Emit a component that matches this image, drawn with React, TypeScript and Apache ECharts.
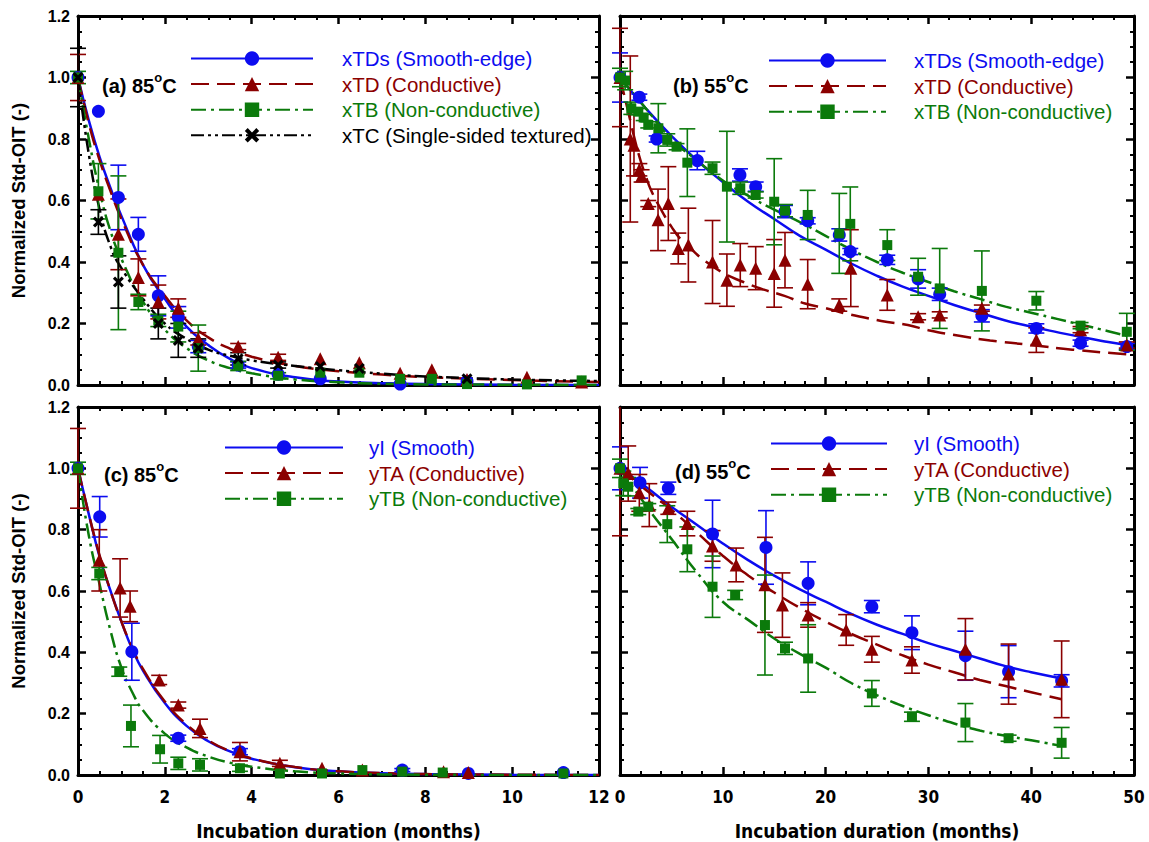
import React, { useEffect, useRef } from 'react';
import * as echarts from 'echarts';

// ---------- colours / fonts ----------
const BLUE = '#0c0cf0';
const RED = '#8b0000';
const GREEN = '#0b7a0b';
const BLACK = '#000000';
const FONT = "'Liberation Sans', Arial, sans-serif";
const NARROW = "'Liberation Sans Narrow', 'DejaVu Sans Condensed', 'Liberation Sans', Arial, sans-serif";

// ---------- tick labels ----------
const xTicks85 = { min: 0, max: 12, interval: 2, minor: 4 };
const xTicks55 = { min: 0, max: 50, interval: 10, minor: 5 };
const yTicks = { min: 0, max: 1.2, interval: 0.2, minor: 4 };

// ---------- legend names ----------
const namesX = ['xTDs (Smooth-edge)', 'xTD (Conductive)', 'xTB (Non-conductive)', 'xTC (Single-sided textured)'];
const namesY = ['yI (Smooth)', 'yTA (Conductive)', 'yTB (Non-conductive)'];
const panelLabels = ['(a) 85', '(b) 55', '(c) 85', '(d) 55'];
const yTitle = 'Normalized Std-OIT (-)';
const xTitle = 'Incubation duration (months)';

// ---------- panel (a) 85C, x-series ----------
const aBlueX = [0, 0.47, 0.93, 1.39, 1.85, 2.31, 2.77, 3.69, 4.61, 5.58, 7.42, 8.96];
const aBlueY = [1.0, 0.89, 0.61, 0.49, 0.29, 0.22, 0.125, 0.065, 0.035, 0.02, 0.003, 0.012];
const aBlueE = [0, 0, 0.105, 0.055, 0.065, 0.035, 0.02, 0.01, 0, 0, 0, 0];
const aRedX = [0, 0.47, 0.93, 1.39, 1.85, 2.31, 2.77, 3.69, 4.61, 5.58, 6.48, 7.42, 8.15, 8.96, 10.34, 11.6];
const aRedY = [1.0, 0.62, 0.49, 0.35, 0.27, 0.25, 0.15, 0.125, 0.09, 0.085, 0.072, 0.038, 0.05, 0.018, 0.025, 0.01];
const aRedE = [0.075, 0, 0.115, 0.06, 0.055, 0.03, 0.02, 0.01, 0.01, 0, 0, 0, 0, 0, 0, 0];
const aGreenX = [0, 0.47, 0.93, 1.39, 1.85, 2.31, 2.77, 3.69, 4.61, 5.58, 6.48, 7.42, 8.15, 8.96, 10.34, 11.6];
const aGreenY = [1.0, 0.63, 0.43, 0.27, 0.21, 0.19, 0.12, 0.062, 0.03, 0.04, 0.04, 0.02, 0.02, 0.003, 0.002, 0.015];
const aGreenE = [0.02, 0.09, 0.25, 0.025, 0.02, 0.05, 0.075, 0.015, 0.01, 0, 0, 0, 0, 0, 0, 0];
const aBlackX = [0, 0.47, 0.93, 1.85, 2.31, 2.77, 3.69, 4.61, 5.58, 6.48, 8.96];
const aBlackY = [1.0, 0.53, 0.335, 0.2, 0.145, 0.12, 0.085, 0.065, 0.06, 0.054, 0.02];
const aBlackE = [0.095, 0.04, 0.085, 0.05, 0.055, 0.03, 0.02, 0.01, 0, 0, 0];

const aFitX = [0, 0.25, 0.5, 0.75, 1, 1.5, 2, 2.5, 3, 3.5, 4, 5, 6, 7, 8, 10, 12];
const aFitBlue = [1, 0.86, 0.74, 0.64, 0.55, 0.39, 0.28, 0.19, 0.13, 0.085, 0.055, 0.025, 0.011, 0.006, 0.003, 0.001, 0];
const aFitRed = [1, 0.85, 0.73, 0.63, 0.54, 0.39, 0.29, 0.21, 0.155, 0.118, 0.092, 0.062, 0.045, 0.034, 0.026, 0.016, 0.01];
const aFitGreen = [1, 0.8, 0.63, 0.5, 0.41, 0.27, 0.18, 0.12, 0.08, 0.055, 0.038, 0.018, 0.009, 0.004, 0.002, 0.001, 0];
const aFitBlack = [1, 0.75, 0.57, 0.45, 0.38, 0.28, 0.2, 0.15, 0.115, 0.095, 0.08, 0.062, 0.048, 0.037, 0.028, 0.018, 0.013];

// ---------- panel (b) 55C, x-series ----------
const bBlueX = [0, 1.88, 3.57, 7.52, 11.67, 13.2, 16.05, 18.26, 21.33, 22.4, 26.0, 29.0, 31.1, 35.2, 40.5, 44.8, 49.3];
const bBlueY = [1.0, 0.936, 0.8, 0.73, 0.683, 0.645, 0.564, 0.534, 0.488, 0.434, 0.407, 0.345, 0.295, 0.225, 0.184, 0.136, 0.125];
const bBlueE = [0.08, 0.01, 0.01, 0.03, 0.02, 0.015, 0.02, 0.01, 0.02, 0.01, 0.015, 0.03, 0.02, 0.02, 0.015, 0.01, 0.01];
const bRedX = [0, 1.0, 1.36, 1.88, 2.1, 2.75, 3.7, 4.7, 5.67, 6.65, 9.0, 10.4, 11.7, 13.2, 15.0, 16.05, 18.26, 21.33, 22.45, 26.0, 29.0, 31.1, 35.2, 40.5, 44.8, 49.3];
const bRedY = [1.0, 0.8, 0.78, 0.7, 0.68, 0.59, 0.537, 0.59, 0.444, 0.455, 0.4, 0.341, 0.39, 0.38, 0.363, 0.406, 0.328, 0.26, 0.38, 0.293, 0.222, 0.228, 0.25, 0.146, 0.18, 0.13];
const bRedE = [0.16, 0.27, 0.1, 0.02, 0.02, 0.01, 0.1, 0.12, 0.05, 0.12, 0.135, 0.085, 0.07, 0.07, 0.11, 0.09, 0.08, 0.02, 0.125, 0.05, 0.01, 0.01, 0.01, 0.04, 0.01, 0.01];
const bGreenX = [0, 0.5, 1.1, 1.78, 2.3, 2.75, 3.73, 4.6, 5.5, 6.55, 9.0, 10.4, 11.7, 13.2, 15.0, 16.05, 18.26, 21.33, 22.4, 26.0, 29.0, 31.1, 35.2, 40.5, 44.8, 49.3];
const bGreenY = [1.0, 0.99, 0.9, 0.889, 0.87, 0.846, 0.835, 0.797, 0.775, 0.723, 0.705, 0.645, 0.64, 0.618, 0.596, 0.567, 0.553, 0.493, 0.524, 0.455, 0.352, 0.314, 0.306, 0.274, 0.193, 0.173];
const bGreenE = [0.03, 0.03, 0.02, 0.01, 0.01, 0.01, 0.08, 0.02, 0.01, 0.11, 0.02, 0.18, 0.02, 0.01, 0.14, 0.02, 0.08, 0.13, 0.12, 0.05, 0.06, 0.13, 0.13, 0.03, 0.01, 0.06];

const bFitX = [0, 2.5, 5, 7.5, 10, 12.5, 15, 17.5, 20, 22.5, 25, 27.5, 30, 32.5, 35, 37.5, 40, 42.5, 45, 47.5, 49.3];
const bFitBlue = [1, 0.9, 0.81, 0.73, 0.66, 0.595, 0.54, 0.485, 0.44, 0.395, 0.355, 0.32, 0.29, 0.26, 0.235, 0.21, 0.19, 0.172, 0.155, 0.14, 0.13];
const bFitGreen = [1, 0.9, 0.8, 0.73, 0.665, 0.615, 0.57, 0.53, 0.485, 0.44, 0.4, 0.365, 0.335, 0.305, 0.28, 0.255, 0.235, 0.215, 0.195, 0.175, 0.16];
const bFitRedX = [0, 0.5, 1, 1.5, 2, 2.5, 3, 4, 5, 6, 7, 8, 10, 12, 14, 16, 18, 20, 22, 24, 26, 28, 30, 33, 36, 40, 44, 49.3];
const bFitRed = [1, 0.93, 0.86, 0.79, 0.73, 0.68, 0.635, 0.57, 0.515, 0.47, 0.44, 0.41, 0.365, 0.335, 0.31, 0.29, 0.265, 0.25, 0.232, 0.218, 0.205, 0.195, 0.178, 0.16, 0.145, 0.13, 0.115, 0.1];

// ---------- panel (c) 85C, y-series ----------
const cBlueX = [0, 0.5, 1.24, 2.31, 3.73, 7.47, 8.99, 11.18];
const cBlueY = [1.0, 0.842, 0.402, 0.12, 0.076, 0.016, 0.005, 0.008];
const cBlueE = [0, 0.066, 0.093, 0.01, 0.01, 0.005, 0, 0];
const cRedX = [0, 0.49, 0.97, 1.2, 1.87, 2.31, 2.81, 3.73, 4.65, 5.62, 6.55, 8.42, 8.99];
const cRedY = [1.0, 0.7, 0.61, 0.55, 0.31, 0.228, 0.152, 0.076, 0.038, 0.022, 0.016, 0.011, 0.008];
const cRedE = [0.13, 0.1, 0.095, 0.05, 0.015, 0.01, 0.03, 0.03, 0.01, 0, 0, 0, 0];
const cGreenX = [0, 0.49, 0.95, 1.22, 1.89, 2.31, 2.81, 3.73, 4.65, 5.62, 6.55, 7.47, 8.4, 11.18];
const cGreenY = [1.0, 0.657, 0.337, 0.16, 0.084, 0.038, 0.033, 0.022, 0.005, 0.005, 0.016, 0.011, 0.008, 0.005];
const cGreenE = [0.02, 0.02, 0.015, 0.068, 0.045, 0.02, 0.02, 0.01, 0, 0, 0, 0, 0, 0];

const cFitX = [0, 0.25, 0.5, 0.75, 1, 1.25, 1.5, 2, 2.5, 3, 3.5, 4, 5, 6, 7, 8, 10, 12];
const cFitBlue = [1, 0.85, 0.71, 0.6, 0.5, 0.41, 0.34, 0.235, 0.16, 0.11, 0.077, 0.053, 0.025, 0.012, 0.006, 0.003, 0.001, 0];
const cFitRed = [1, 0.85, 0.715, 0.6, 0.5, 0.415, 0.345, 0.24, 0.165, 0.113, 0.078, 0.054, 0.026, 0.012, 0.006, 0.003, 0.001, 0];
const cFitGreen = [1, 0.78, 0.62, 0.47, 0.35, 0.27, 0.21, 0.135, 0.09, 0.06, 0.04, 0.027, 0.012, 0.005, 0.002, 0.001, 0, 0];

// ---------- panel (d) 55C, y-series ----------
const dBlueX = [0, 1.95, 4.7, 9.0, 14.2, 18.3, 24.5, 28.4, 33.6, 37.8, 42.96];
const dBlueY = [1.0, 0.953, 0.935, 0.786, 0.742, 0.625, 0.549, 0.464, 0.389, 0.337, 0.307];
const dBlueE = [0.07, 0.05, 0.02, 0.11, 0.12, 0.07, 0.02, 0.055, 0.08, 0.085, 0.02];
const dRedX = [0, 0.8, 1.88, 2.85, 4.7, 6.55, 9.0, 11.3, 14.1, 15.8, 18.3, 22.0, 24.5, 28.4, 33.6, 37.8, 42.96];
const dRedY = [1.0, 0.983, 0.92, 0.88, 0.87, 0.82, 0.747, 0.685, 0.62, 0.554, 0.522, 0.473, 0.41, 0.375, 0.41, 0.329, 0.312];
const dRedE = [0.22, 0.09, 0.06, 0.07, 0.02, 0.04, 0.05, 0.055, 0.155, 0.105, 0.04, 0.05, 0.042, 0.043, 0.1, 0.098, 0.125];
const dGreenX = [0, 0.32, 0.8, 1.78, 2.75, 4.6, 6.55, 9.0, 11.2, 14.1, 16.05, 18.3, 24.5, 28.4, 33.6, 37.8, 42.96];
const dGreenY = [1.0, 0.951, 0.94, 0.859, 0.875, 0.818, 0.736, 0.614, 0.587, 0.489, 0.413, 0.38, 0.266, 0.19, 0.171, 0.12, 0.105];
const dGreenE = [0.03, 0.04, 0.03, 0.01, 0.01, 0.06, 0.073, 0.1, 0.015, 0.163, 0.02, 0.11, 0.042, 0.015, 0.062, 0.01, 0.05];

const dFitX = [0, 2.5, 5, 7.5, 10, 12.5, 15, 17.5, 20, 22.5, 25, 27.5, 30, 32.5, 35, 37.5, 40, 42.96];
const dFitBlue = [1, 0.94, 0.875, 0.815, 0.755, 0.7, 0.65, 0.605, 0.565, 0.525, 0.49, 0.46, 0.43, 0.405, 0.38, 0.355, 0.335, 0.315];
const dFitRed = [1, 0.93, 0.865, 0.79, 0.715, 0.65, 0.595, 0.545, 0.5, 0.46, 0.425, 0.39, 0.36, 0.335, 0.31, 0.29, 0.27, 0.247];
const dFitGreen = [1, 0.88, 0.77, 0.66, 0.565, 0.505, 0.445, 0.395, 0.35, 0.3, 0.26, 0.225, 0.195, 0.168, 0.145, 0.128, 0.113, 0.095];

// ---------- styles ----------
const DASH_RED = [18, 8];
const DASH_GREEN = [15, 5, 3, 5];
const DASH_BLACK = [13, 4, 3, 4, 3, 4];
const CROSS = 'path://M2,0 L5,3 L8,0 L10,2 L7,5 L10,8 L8,10 L5,7 L2,10 L0,8 L3,5 L0,2 Z';

const grids = [
  { left: 78, top: 16, width: 521, height: 369 },
  { left: 620, top: 16, width: 514, height: 369 },
  { left: 78, top: 407, width: 521, height: 368 },
  { left: 620, top: 407, width: 514, height: 368 },
];

function tickCommon(minor: number) {
  return {
    axisLine: { show: true, onZero: false, lineStyle: { color: '#000', width: 3 } },
    axisTick: { show: true, inside: true, length: 8, lineStyle: { color: '#000', width: 2.5 } },
    minorTick: { show: true, splitNumber: minor, length: 4, lineStyle: { color: '#000', width: 2 } },
    splitLine: { show: false },
    minorSplitLine: { show: false },
  };
}

function makeXAxes(gi: number, t: any, showLabels: boolean) {
  const base = { type: 'value', gridIndex: gi, min: t.min, max: t.max, interval: t.interval, ...tickCommon(t.minor) };
  return [
    {
      ...base,
      position: 'bottom',
      axisLabel: {
        show: showLabels, margin: 13, color: '#000', fontWeight: 'bold', fontSize: 17, fontFamily: NARROW,
      },
      name: showLabels ? xTitle : '',
      nameLocation: 'middle',
      nameGap: 46,
      nameTextStyle: { color: '#000', fontWeight: 'bold', fontSize: 19, fontFamily: NARROW },
    },
    { ...base, position: 'top', axisLabel: { show: false } },
  ];
}

function makeYAxes(gi: number, showLabels: boolean) {
  const base = { type: 'value', gridIndex: gi, min: yTicks.min, max: yTicks.max, interval: yTicks.interval, ...tickCommon(yTicks.minor) };
  return [
    {
      ...base,
      position: 'left',
      axisLabel: {
        show: showLabels, margin: 8, color: '#000', fontWeight: 'bold', fontSize: 16, fontFamily: FONT,
        formatter: (v: number) => v.toFixed(1),
      },
      name: showLabels ? yTitle : '',
      nameLocation: 'middle',
      nameGap: 50,
      nameRotate: 90,
      nameTextStyle: { color: '#000', fontWeight: 'bold', fontSize: 18.5, fontFamily: FONT },
    },
    { ...base, position: 'right', axisLabel: { show: false } },
  ];
}

function fitLine(gi: number, xs: number[], ys: number[], color: string, dash: any) {
  return {
    type: 'line', xAxisIndex: 2 * gi, yAxisIndex: 2 * gi,
    data: xs.map((x, i) => [x, ys[i]]),
    symbol: 'none', showSymbol: false, smooth: 0.5, clip: true, z: 2, silent: true,
    lineStyle: { color, width: 2.5, type: dash },
  };
}

function points(gi: number, xs: number[], ys: number[], color: string, symbol: string, size: number) {
  return {
    type: 'scatter', xAxisIndex: 2 * gi, yAxisIndex: 2 * gi,
    data: xs.map((x, i) => [x, ys[i]]),
    symbol, symbolSize: size, itemStyle: { color, opacity: 1 }, z: 4, silent: true, clip: false,
  };
}

function errorBars(gi: number, xs: number[], ys: number[], es: number[], color: string) {
  const data: number[][] = [];
  xs.forEach((x, i) => {
    if (es[i] > 0) data.push([x, ys[i] - es[i], ys[i] + es[i]]);
  });
  return {
    type: 'custom', xAxisIndex: 2 * gi, yAxisIndex: 2 * gi, z: 3, silent: true, clip: false,
    data,
    encode: { x: 0, y: [1, 2] },
    renderItem: (params: any, api: any) => {
      const x = api.value(0);
      const lo = Math.max(0, api.value(1));
      const hiRaw = api.value(2);
      const hi = Math.min(1.2, hiRaw);
      const p1 = api.coord([x, lo]);
      const p2 = api.coord([x, hi]);
      const w = 8;
      const style = { stroke: color, lineWidth: 1.6, fill: null };
      const children: any[] = [
        { type: 'line', shape: { x1: p1[0], y1: p1[1], x2: p2[0], y2: p2[1] }, style },
        { type: 'line', shape: { x1: p1[0] - w, y1: p1[1], x2: p1[0] + w, y2: p1[1] }, style },
      ];
      if (hiRaw <= 1.2) children.push({ type: 'line', shape: { x1: p2[0] - w, y1: p2[1], x2: p2[0] + w, y2: p2[1] }, style });
      return { type: 'group', children };
    },
  };
}

function legendDummy(gi: number, name: string, color: string, symbol: string, dash: any) {
  return {
    type: 'line', name, xAxisIndex: 2 * gi, yAxisIndex: 2 * gi, data: [],
    symbol, symbolSize: 12, lineStyle: { color, width: 2.5, type: dash }, itemStyle: { color },
  };
}

function legendBox(left: number, top: number, iw: number, gap: number, names: string[], colors: string[]) {
  return {
    orient: 'vertical', left, top, padding: 0, itemWidth: iw, itemHeight: 18, itemGap: 4.6,
    selectedMode: false,
    data: names.map((n, i) => ({ name: n, textStyle: { color: colors[i] } })),
    textStyle: { fontSize: 20.5, fontFamily: FONT, padding: [0, 0, 0, gap] },
  };
}

function panelLabel(i: number, x: number, y: number) {
  return {
    type: 'text', x, y, z: 10,
    style: {
      text: `{b|${panelLabels[i]}}{s|o}{b|C}`,
      verticalAlign: 'middle',
      rich: {
        b: { fontSize: 20, fontWeight: 'bold', fontFamily: FONT, fill: '#000', lineHeight: 30 },
        s: { fontSize: 13, fontWeight: 'bold', fontFamily: FONT, fill: '#000', verticalAlign: 'top', lineHeight: 12 },
      },
    },
  };
}

const xColors = [BLUE, RED, GREEN, BLACK];
const yColors = [BLUE, RED, GREEN];

const option: any = {
  animation: false,
  backgroundColor: '#ffffff',
  grid: grids,
  xAxis: [
    ...makeXAxes(0, xTicks85, false),
    ...makeXAxes(1, xTicks55, false),
    ...makeXAxes(2, xTicks85, true),
    ...makeXAxes(3, xTicks55, true),
  ],
  yAxis: [
    ...makeYAxes(0, true),
    ...makeYAxes(1, false),
    ...makeYAxes(2, true),
    ...makeYAxes(3, false),
  ],
  legend: [
    legendBox(190, 48, 122, 24, namesX, xColors),
    legendBox(768, 50, 117, 23, namesX.slice(0, 3), xColors),
    legendBox(224, 437, 118, 21, namesY, yColors),
    legendBox(770, 433, 116, 22, namesY, yColors),
  ],
  graphic: [
    panelLabel(0, 102, 86),
    panelLabel(1, 673, 86),
    panelLabel(2, 104, 475),
    panelLabel(3, 675, 472),
  ],
  series: [
    legendDummy(0, namesX[0], BLUE, 'circle', 'solid'),
    legendDummy(0, namesX[1], RED, 'triangle', DASH_RED),
    legendDummy(0, namesX[2], GREEN, 'rect', DASH_GREEN),
    legendDummy(0, namesX[3], BLACK, CROSS, DASH_BLACK),
    legendDummy(2, namesY[0], BLUE, 'circle', 'solid'),
    legendDummy(2, namesY[1], RED, 'triangle', DASH_RED),
    legendDummy(2, namesY[2], GREEN, 'rect', DASH_GREEN),

    // (a)
    fitLine(0, aFitX, aFitBlue, BLUE, 'solid'),
    fitLine(0, aFitX, aFitRed, RED, DASH_RED),
    fitLine(0, aFitX, aFitGreen, GREEN, DASH_GREEN),
    fitLine(0, aFitX, aFitBlack, BLACK, DASH_BLACK),
    errorBars(0, aBlueX, aBlueY, aBlueE, BLUE),
    errorBars(0, aRedX, aRedY, aRedE, RED),
    errorBars(0, aGreenX, aGreenY, aGreenE, GREEN),
    errorBars(0, aBlackX, aBlackY, aBlackE, BLACK),
    points(0, aBlueX, aBlueY, BLUE, 'circle', 13),
    points(0, aRedX, aRedY, RED, 'triangle', 13),
    points(0, aGreenX, aGreenY, GREEN, 'rect', 10),
    points(0, aBlackX, aBlackY, BLACK, CROSS, 11),

    // (b)
    fitLine(1, bFitX, bFitBlue, BLUE, 'solid'),
    fitLine(1, bFitRedX, bFitRed, RED, DASH_RED),
    fitLine(1, bFitX, bFitGreen, GREEN, DASH_GREEN),
    errorBars(1, bBlueX, bBlueY, bBlueE, BLUE),
    errorBars(1, bRedX, bRedY, bRedE, RED),
    errorBars(1, bGreenX, bGreenY, bGreenE, GREEN),
    points(1, bBlueX, bBlueY, BLUE, 'circle', 13),
    points(1, bRedX, bRedY, RED, 'triangle', 13),
    points(1, bGreenX, bGreenY, GREEN, 'rect', 10),

    // (c)
    fitLine(2, cFitX, cFitBlue, BLUE, 'solid'),
    fitLine(2, cFitX, cFitRed, RED, DASH_RED),
    fitLine(2, cFitX, cFitGreen, GREEN, DASH_GREEN),
    errorBars(2, cBlueX, cBlueY, cBlueE, BLUE),
    errorBars(2, cRedX, cRedY, cRedE, RED),
    errorBars(2, cGreenX, cGreenY, cGreenE, GREEN),
    points(2, cBlueX, cBlueY, BLUE, 'circle', 13),
    points(2, cRedX, cRedY, RED, 'triangle', 13),
    points(2, cGreenX, cGreenY, GREEN, 'rect', 10),

    // (d)
    fitLine(3, dFitX, dFitBlue, BLUE, 'solid'),
    fitLine(3, dFitX, dFitRed, RED, DASH_RED),
    fitLine(3, dFitX, dFitGreen, GREEN, DASH_GREEN),
    errorBars(3, dBlueX, dBlueY, dBlueE, BLUE),
    errorBars(3, dRedX, dRedY, dRedE, RED),
    errorBars(3, dGreenX, dGreenY, dGreenE, GREEN),
    points(3, dBlueX, dBlueY, BLUE, 'circle', 13),
    points(3, dRedX, dRedY, RED, 'triangle', 13),
    points(3, dGreenX, dGreenY, GREEN, 'rect', 10),
  ],
};

export default function App() {
  const ref = useRef<HTMLDivElement>(null);
  useEffect(() => {
    const chart = echarts.init(ref.current as HTMLDivElement, null, { renderer: 'svg' });
    chart.setOption(option);
    return () => chart.dispose();
  }, []);
  return (
    <div
      ref={ref}
      style={{ position: 'absolute', left: 0, top: 0, width: 1149, height: 842, background: '#ffffff' }}
    />
  );
}
